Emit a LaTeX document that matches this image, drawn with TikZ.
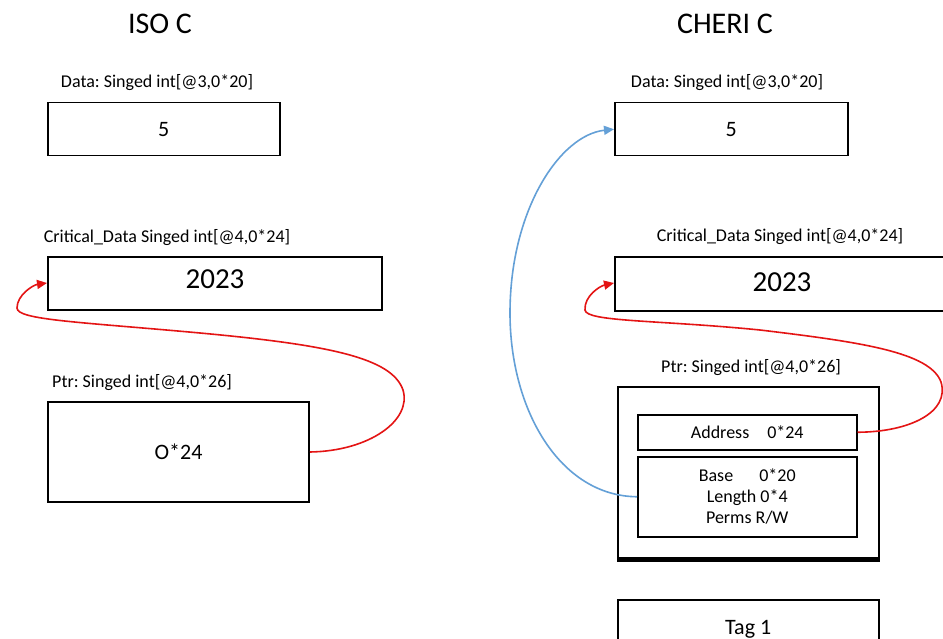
\documentclass[tikz,border=0pt]{standalone}
\usepackage{fontspec}
\setmainfont{Carlito}
\usetikzlibrary{arrows.meta}
\definecolor{redarrow}{RGB}{228,20,20}
\definecolor{bluearrow}{RGB}{100,160,215}
\begin{document}
\frenchspacing
\begin{tikzpicture}[x=1pt,y=-1pt,
  box/.style={draw, line width=1.5pt, inner sep=0pt, anchor=north west},
  lbl/.style={font=\fontsize{18}{20}\selectfont, inner sep=0pt},
  ttl/.style={font=\fontsize{30}{32}\selectfont, inner sep=0pt},
  redcon/.style={draw=redarrow, line width=1.6pt, -{Triangle[length=10pt,width=9pt]}},
  bluecon/.style={draw=bluearrow, line width=1.6pt, -{Triangle[length=10pt,width=9pt]}}]
\clip (0,0) rectangle (943,639);
\fill[white] (0,0) rectangle (943,639);
% titles
\node[ttl] (isotitle) at (160,24) {ISO C};
\node[ttl] (cherititle) at (725,24) {CHERI C};
% left column
\node[lbl] (ldatal) at (157,83) {Data: Singed int[@3,0*20]};
\node[box, minimum width=232pt, minimum height=53pt, font=\fontsize{22}{24}\selectfont] (ldata) at (47,102) {5};
\node[lbl] (lcritl) at (167,238) {Critical\_Data Singed int[@4,0*24]};
\node[box, line width=2pt, minimum width=334pt, minimum height=53pt, font=\fontsize{29}{31}\selectfont] (lcrit) at (47,256) {\raisebox{9pt}{2023}};
\node[lbl] (lptrl) at (142,383) {Ptr: Singed int[@4,0*26]};
\node[box, line width=2pt, minimum width=261pt, minimum height=100pt, font=\fontsize{22}{24}\selectfont] (lptr) at (47,401) {O*24};
% right column
\node[lbl] (rdatal) at (727,83) {Data: Singed int[@3,0*20]};
\node[box, minimum width=233pt, minimum height=53pt, font=\fontsize{22}{24}\selectfont] (rdata) at (614,102) {5};
\node[lbl] (rcritl) at (780,237) {Critical\_Data Singed int[@4,0*24]};
\node[box, line width=2pt, minimum width=360pt, minimum height=54pt, font=\fontsize{29}{31}\selectfont] (rcrit) at (614,256) {\hspace*{-26pt}\raisebox{3pt}{2023}};
\node[lbl] (rptrl) at (751,368) {Ptr: Singed int[@4,0*26]};
\node[box, line width=2pt, minimum width=261pt, minimum height=171pt] (rptr) at (617,386) {};
\draw[line width=3.5pt] ([yshift=-1pt]rptr.south west) -- ([yshift=-1pt]rptr.south east);
\node[box, minimum width=219pt, minimum height=35pt, font=\fontsize{18}{20}\selectfont] (raddr) at (637,414) {Address\quad 0*24};
\node[box, minimum width=219pt, minimum height=80pt, align=center, font=\fontsize{18}{21}\selectfont] (rbase) at (637,456) {Base\quad\ \ 0*20\\Length 0*4\\Perms R/W};
\node[box, minimum width=261pt, minimum height=60pt, font=\fontsize{22}{24}\selectfont] (rtag) at (617,599) {\raisebox{-4pt}{Tag 1}};
% connectors
\draw[redcon] (lptr.east) .. controls (370,451) and (412,420) .. (403,390)
  .. controls (392,358) and (330,345) .. (200,333)
  .. controls (80,322) and (17,320) .. (17,308)
  .. controls (17,295) and (33,285) .. (lcrit.west |- 0,283);
\draw[redcon] (raddr.east) .. controls (910,432) and (950,412) .. (941,382)
  .. controls (930,352) and (860,342) .. (760,330)
  .. controls (660,320) and (586,322) .. (585,310)
  .. controls (584,296) and (600,286) .. (rcrit.west |- 0,283);
\draw[bluecon] (rbase.west) .. controls (560,496) and (510,410) .. (510,313)
  .. controls (510,210) and (560,135) .. (rdata.west);
\end{tikzpicture}
\end{document}
